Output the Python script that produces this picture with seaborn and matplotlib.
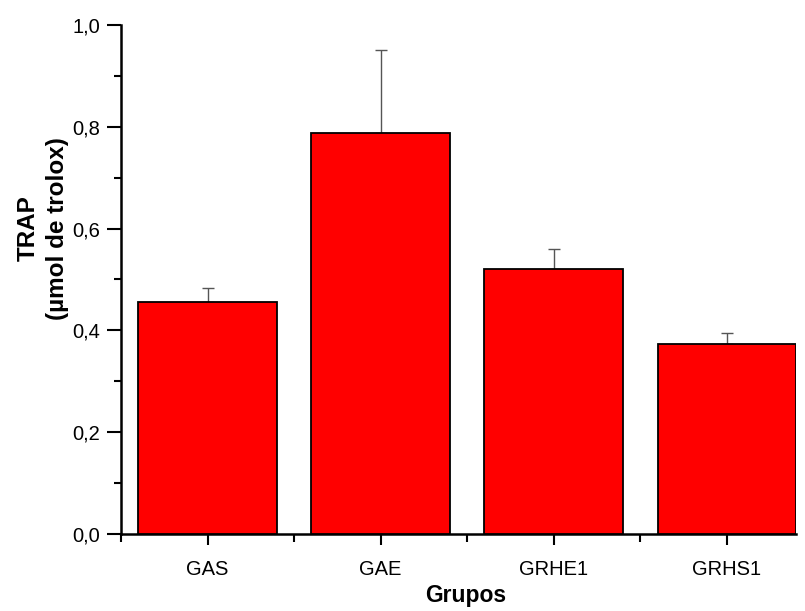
import matplotlib
matplotlib.use("Agg")
import matplotlib.pyplot as plt
import seaborn as sns
import pandas as pd
import numpy as np
from matplotlib.ticker import MultipleLocator, FixedLocator, FuncFormatter

groups = ["GAS", "GAE", "GRHE1", "GRHS1"]
means = [0.456, 0.788, 0.520, 0.373]
upper_err = [0.027, 0.163, 0.040, 0.021]
y_ticks = [0.0, 0.2, 0.4, 0.6, 0.8, 1.0]

sns.set_style("ticks")
plt.rcParams["font.family"] = ["Liberation Sans", "DejaVu Sans"]
plt.rcParams["text.color"] = "black"
plt.rcParams["axes.labelcolor"] = "black"

df = pd.DataFrame({"Grupos": groups, "TRAP": means})

fig = plt.figure(figsize=(8.05, 6.11), dpi=100)
ax = fig.add_axes([121 / 805, 77 / 611, 675 / 805, 509 / 611])

sns.barplot(data=df, x="Grupos", y="TRAP", color="#FF0000", saturation=1,
            edgecolor="black", linewidth=1.3, width=0.8, errorbar=None, ax=ax,
            zorder=3)
xpos = np.arange(len(groups))
ax.errorbar(xpos, means, yerr=[np.zeros(len(means)), upper_err], fmt="none",
            ecolor="#555555", elinewidth=1.0, capsize=4, capthick=1.0, zorder=2)

ax.set_xlim(-0.5, 3.4)
ax.set_ylim(0, 1.0)
ax.set_yticks(y_ticks)
ax.yaxis.set_minor_locator(MultipleLocator(0.1))
ax.xaxis.set_minor_locator(FixedLocator([-0.5, 0.5, 1.5, 2.5]))
ax.yaxis.set_major_formatter(FuncFormatter(lambda v, p: f"{v:.1f}".replace(".", ",")))

for s in ["top", "right"]:
    ax.spines[s].set_visible(False)
for s in ["left", "bottom"]:
    ax.spines[s].set_linewidth(1.8)
    ax.spines[s].set_color("black")

ax.tick_params(axis="y", which="major", direction="out", length=10, width=1.5,
               pad=5, labelsize=14.5, colors="black")
ax.tick_params(axis="y", which="minor", direction="out", length=5, width=1.5,
               colors="black")
ax.tick_params(axis="x", which="major", direction="out", length=8, width=1.5,
               pad=11, labelsize=14.5, colors="black")
ax.tick_params(axis="x", which="minor", direction="out", length=6, width=1.5,
               colors="black")

ax.set_xlabel("Grupos", fontsize=16.5, fontweight="bold", color="black")
ax.set_ylabel("TRAP\n(\u00b5mol de trolox)", fontsize=17.5, fontweight="bold",
              linespacing=1.35, color="black")
ax.yaxis.set_label_coords(-0.077, 0.601)
ax.xaxis.set_label_coords(0.511, -0.098)

fig.savefig("out.png", dpi=100)
